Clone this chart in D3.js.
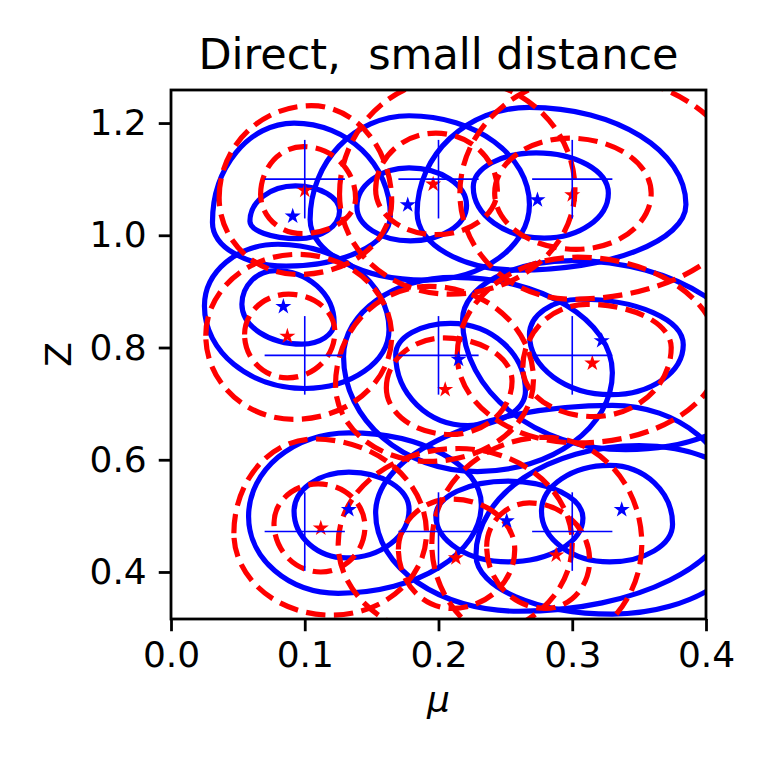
<!DOCTYPE html>
<html>
<head>
<meta charset="utf-8">
<script src="https://cdn.jsdelivr.net/npm/d3@7"></script>
<style>
  body { margin: 0; background: #fff; }
  text { font-family: "DejaVu Sans", sans-serif; fill: #000; }
</style>
</head>
<body>
<svg id="chart"></svg>
<script>
// true parameter grid (crosses) and their error arms
const crossMu = [0.1, 0.2, 0.3];
const crossZ = [1.1, 0.786, 0.472];
const muErr = 0.03;
const zErr = 0.07;

// estimated points, order: top row left->right, middle row, bottom row
const blueStars = [[0.091,1.034],[0.177,1.054],[0.274,1.063],[0.084,0.873],[0.215,0.779],[0.322,0.812],[0.133,0.511],[0.251,0.491],[0.337,0.511]];
const redStars = [[0.100,1.080],[0.196,1.091],[0.300,1.072],[0.087,0.820],[0.205,0.725],[0.315,0.772],[0.112,0.478],[0.213,0.425],[0.288,0.430]];

// contours: [left mu, left Z, top mu, top Z, right mu, right Z, bottom mu, bottom Z]
const blueInner = [
  [0.059,1.025, 0.093,1.088, 0.126,1.043, 0.095,0.994],
  [0.139,1.051, 0.178,1.120, 0.221,1.053, 0.179,0.990],
  [0.226,1.086, 0.273,1.147, 0.327,1.075, 0.279,0.995],
  [0.053,0.877, 0.078,0.937, 0.122,0.844, 0.098,0.806],
  [0.168,0.787, 0.209,0.843, 0.265,0.722, 0.222,0.661],
  [0.268,0.823, 0.306,0.886, 0.383,0.805, 0.329,0.716],
  [0.092,0.508, 0.133,0.578, 0.178,0.511, 0.131,0.425],
  [0.198,0.500, 0.252,0.562, 0.308,0.496, 0.252,0.418],
  [0.277,0.508, 0.328,0.590, 0.375,0.485, 0.328,0.418]
];
const blueOuter = [
  [0.031,1.023, 0.092,1.200, 0.164,1.035, 0.086,0.945],
  [0.104,1.028, 0.178,1.213, 0.268,1.055, 0.190,0.920],
  [0.184,1.040, 0.268,1.228, 0.385,1.055, 0.259,0.938],
  [0.025,0.874, 0.080,0.984, 0.163,0.832, 0.100,0.727],
  [0.129,0.784, 0.212,0.925, 0.330,0.755, 0.229,0.579],
  [0.218,0.850, 0.300,0.955, 0.440,0.740, 0.340,0.618],
  [0.058,0.499, 0.133,0.648, 0.232,0.520, 0.125,0.362],
  [0.153,0.505, 0.330,0.697, 0.420,0.520, 0.260,0.330],
  [0.228,0.430, 0.350,0.625, 0.440,0.500, 0.330,0.325]
];
const redInner = [
  [0.067,1.073, 0.099,1.158, 0.138,1.066, 0.098,1.003],
  [0.153,1.081, 0.198,1.182, 0.244,1.081, 0.198,1.001],
  [0.242,1.075, 0.298,1.173, 0.359,1.075, 0.303,0.975],
  [0.055,0.823, 0.088,0.895, 0.1225,0.828, 0.087,0.746],
  [0.161,0.728, 0.204,0.817, 0.255,0.740, 0.209,0.645],
  [0.263,0.764, 0.311,0.877, 0.374,0.800, 0.316,0.677],
  [0.077,0.487, 0.110,0.557, 0.145,0.481, 0.112,0.400],
  [0.170,0.440, 0.210,0.530, 0.257,0.440, 0.210,0.335],
  [0.236,0.445, 0.268,0.523, 0.313,0.421, 0.280,0.335]
];
const redOuter = [
  [0.036,1.067, 0.105,1.231, 0.165,1.060, 0.095,0.930],
  [0.126,1.073, 0.212,1.280, 0.302,1.082, 0.209,0.895],
  [0.216,1.075, 0.315,1.285, 0.430,1.070, 0.300,0.886],
  [0.026,0.821, 0.095,0.966, 0.165,0.820, 0.092,0.672],
  [0.123,0.733, 0.193,0.909, 0.271,0.742, 0.193,0.597],
  [0.214,0.786, 0.304,0.961, 0.410,0.786, 0.304,0.630],
  [0.047,0.469, 0.107,0.637, 0.191,0.470, 0.120,0.323],
  [0.125,0.450, 0.215,0.620, 0.300,0.450, 0.215,0.280],
  [0.195,0.450, 0.280,0.640, 0.352,0.450, 0.275,0.260]
];

const xTicks = [0.0, 0.1, 0.2, 0.3, 0.4];
const yTicks = [0.4, 0.6, 0.8, 1.0, 1.2];

const width = 773, height = 773;
const plotL = 171, plotR = 706, plotT = 90, plotB = 619;

const svg = d3.select('#chart').attr('width', width).attr('height', height);

const x = d3.scaleLinear().domain([0, 0.4]).range([plotL, plotR]);
const y = d3.scaleLinear().domain([0.3162, 1.2589]).range([plotB, plotT]);

svg.append('clipPath').attr('id', 'plot')
  .append('rect')
  .attr('x', plotL).attr('y', plotT)
  .attr('width', plotR - plotL).attr('height', plotB - plotT);

// smooth closed oval through the four extreme points
function oval(c) {
  const k = 0.5523;
  const L = [x(c[0]), y(c[1])], T = [x(c[2]), y(c[3])],
        R = [x(c[4]), y(c[5])], B = [x(c[6]), y(c[7])];
  const p = d3.path();
  p.moveTo(L[0], L[1]);
  p.bezierCurveTo(L[0], L[1] + k * (T[1] - L[1]), T[0] - k * (T[0] - L[0]), T[1], T[0], T[1]);
  p.bezierCurveTo(T[0] + k * (R[0] - T[0]), T[1], R[0], R[1] + k * (T[1] - R[1]), R[0], R[1]);
  p.bezierCurveTo(R[0], R[1] + k * (B[1] - R[1]), B[0] + k * (R[0] - B[0]), B[1], B[0], B[1]);
  p.bezierCurveTo(B[0] - k * (B[0] - L[0]), B[1], L[0], L[1] + k * (B[1] - L[1]), L[0], L[1]);
  p.closePath();
  return p.toString();
}

const g = svg.append('g').attr('clip-path', 'url(#plot)');

g.selectAll('path.blue')
  .data(blueInner.concat(blueOuter))
  .enter().append('path')
  .attr('class', 'blue')
  .attr('d', oval)
  .attr('fill', 'none')
  .attr('stroke', '#0000ff')
  .attr('stroke-width', 5.2);

g.selectAll('path.red')
  .data(redInner.concat(redOuter))
  .enter().append('path')
  .attr('class', 'red')
  .attr('d', oval)
  .attr('fill', 'none')
  .attr('stroke', '#ff0000')
  .attr('stroke-width', 5.2)
  .attr('stroke-dasharray', '19.4,8.4');

const star = d3.symbol().type(d3.symbolStar).size(80);

g.selectAll('path.rstar')
  .data(redStars)
  .enter().append('path')
  .attr('class', 'rstar')
  .attr('d', star)
  .attr('fill', '#ff0000')
  .attr('transform', d => 'translate(' + x(d[0]) + ',' + y(d[1]) + ')');

// crosses at the true values
const grid = [];
crossZ.forEach(zv => crossMu.forEach(mv => grid.push([mv, zv])));

g.selectAll('line.h')
  .data(grid)
  .enter().append('line')
  .attr('x1', d => x(d[0] - muErr)).attr('x2', d => x(d[0] + muErr))
  .attr('y1', d => y(d[1])).attr('y2', d => y(d[1]))
  .attr('stroke', '#0000ff').attr('stroke-width', 1.6);

g.selectAll('line.v')
  .data(grid)
  .enter().append('line')
  .attr('x1', d => x(d[0])).attr('x2', d => x(d[0]))
  .attr('y1', d => y(d[1] - zErr)).attr('y2', d => y(d[1] + zErr))
  .attr('stroke', '#0000ff').attr('stroke-width', 1.6);

g.selectAll('path.bstar')
  .data(blueStars)
  .enter().append('path')
  .attr('class', 'bstar')
  .attr('d', star)
  .attr('fill', '#0000ff')
  .attr('transform', d => 'translate(' + x(d[0]) + ',' + y(d[1]) + ')');

// frame
svg.append('rect')
  .attr('x', plotL).attr('y', plotT)
  .attr('width', plotR - plotL).attr('height', plotB - plotT)
  .attr('fill', 'none').attr('stroke', '#000').attr('stroke-width', 2.8);

// axes
const xAxis = svg.append('g')
  .attr('transform', 'translate(0,' + plotB + ')')
  .call(d3.axisBottom(x).tickValues(xTicks).tickFormat(d3.format('.1f')).tickSize(12.25).tickPadding(10));
const yAxis = svg.append('g')
  .attr('transform', 'translate(' + plotL + ',0)')
  .call(d3.axisLeft(y).tickValues(yTicks).tickFormat(d3.format('.1f')).tickSize(12.25).tickPadding(12));

[xAxis, yAxis].forEach(a => {
  a.select('.domain').remove();
  a.selectAll('.tick line').attr('stroke', '#000').attr('stroke-width', 2.8);
  a.selectAll('.tick text').attr('font-size', 36).attr('font-family', 'DejaVu Sans');
});

svg.append('text')
  .attr('x', (plotL + plotR) / 2).attr('y', 69)
  .attr('text-anchor', 'middle')
  .attr('font-size', 43)
  .style('white-space', 'pre')
  .text('Direct,  small distance');

svg.append('text')
  .attr('x', (plotL + plotR) / 2).attr('y', 712)
  .attr('text-anchor', 'middle')
  .attr('font-size', 36)
  .attr('font-style', 'italic')
  .text('μ');

svg.append('text')
  .attr('transform', 'translate(71,' + ((plotT + plotB) / 2) + ') rotate(-90)')
  .attr('text-anchor', 'middle')
  .attr('font-size', 36)
  .text('Z');
</script>
</body>
</html>
